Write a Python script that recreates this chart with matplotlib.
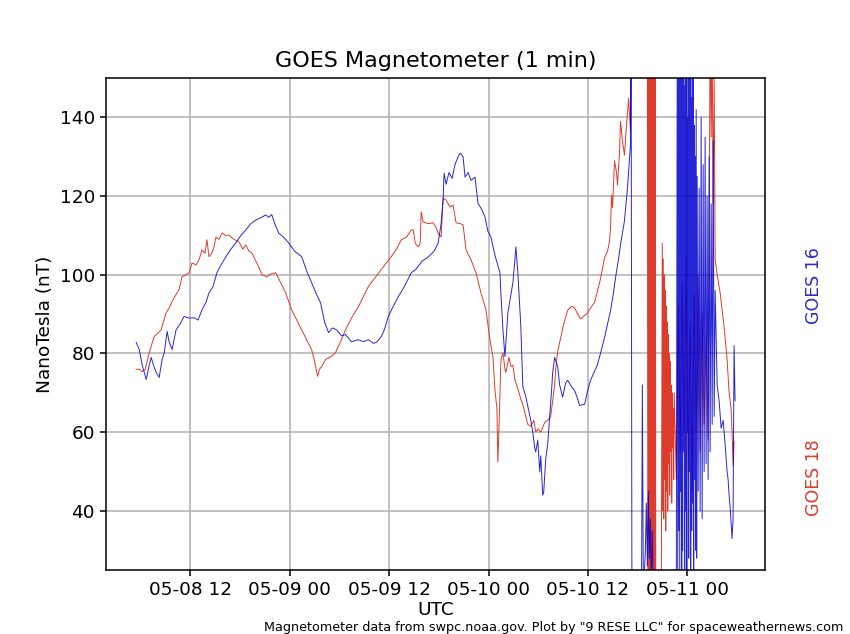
import matplotlib
matplotlib.use('Agg')
import matplotlib.pyplot as plt
import matplotlib.dates as mdates
import pandas as pd

# GOES 16, horas desde 2024-05-08 00:00 UTC y valores en nT
g16_hours = [5.50, 5.87, 6.23, 6.71, 7.07, 7.31, 7.67, 7.91, 8.27, 8.63, 8.87, 9.23, 9.47, 9.83,
             10.31, 10.79, 11.27, 11.88, 12.48, 12.96, 13.44, 13.92, 14.28, 14.76, 15.24, 15.72,
             16.32, 16.92, 17.52, 18.13, 18.73, 19.33, 19.93, 20.53, 21.13, 21.49, 21.85, 22.21,
             22.69, 23.29, 23.89, 24.61, 25.46, 26.06, 26.66, 27.26, 27.74, 28.22, 28.70, 29.18,
             29.66, 30.26, 30.75, 31.47, 32.31, 32.91, 33.51, 34.11, 34.47, 35.07, 35.43, 35.91,
             36.51, 37.11, 37.84, 38.68, 39.28, 40.00, 40.72, 41.44, 41.92, 42.28, 42.52, 42.64,
             42.88, 43.24, 43.60, 43.96, 44.33, 44.57, 44.93, 45.17, 45.53, 45.89, 46.37, 46.73,
             47.21, 47.57, 47.93, 48.29, 48.77, 49.38, 49.50, 49.74, 49.98, 50.34, 50.70, 50.94,
             51.18, 51.30, 51.54, 51.90, 52.14, 52.50, 52.74, 53.10, 53.34, 53.58, 53.70, 53.94,
             54.18, 54.30, 54.54, 54.66, 54.90, 55.14, 55.38, 55.62, 55.74, 55.98, 56.34, 56.58,
             56.94, 57.31, 57.55, 58.03, 58.39, 58.75, 58.99, 59.59, 59.95, 60.31, 60.79, 61.15,
             61.63, 61.99, 62.36, 62.72, 63.08, 63.32, 63.68, 63.92, 64.40, 64.76, 65.12, 65.20,
             65.30, 65.84, 66.44, 66.56, 66.68, 66.92, 67.04, 67.16, 67.28, 67.40, 67.52, 67.64,
             67.76, 67.88, 69.33, 70.65,
             70.77, 70.83, 70.89, 70.95, 71.01, 71.07, 71.13, 71.19, 71.25, 71.31, 71.37, 71.43,
             71.49, 71.55, 71.61, 71.67, 71.73, 71.79, 71.85, 71.91, 71.97, 72.03, 72.09, 72.15,
             72.21, 72.27, 72.33, 72.39, 72.45, 72.51, 72.57, 72.63, 72.69, 72.75, 72.81, 72.87,
             72.93, 72.99, 73.05, 73.11, 73.17,
             73.29, 73.41, 73.53, 73.65, 73.77, 73.89, 74.01, 74.13, 74.25, 74.37, 74.49, 74.61,
             74.73, 74.86, 74.98, 75.10, 75.22, 75.34,
             75.58, 75.82, 76.06, 76.30, 76.54, 76.78, 76.90, 77.02, 77.14,
             77.38, 77.50, 77.62, 77.74]
g16_nt = [82.8, 81, 77, 73.4, 77, 79, 76.5, 75.2, 73.9, 78.5, 80, 85.6, 83, 81,
          86, 87.5, 89.4, 89, 89.1, 88.5, 91.1, 93, 95.4, 97, 100.5, 102.5,
          104.6, 106.5, 108.1, 110, 111.4, 113, 113.9, 114.5, 115.2, 114.6, 115.3, 113,
          110.6, 109.5, 108.1, 106, 104.6, 101, 98, 95, 92.9, 88, 85.3, 86.5,
          86, 84.5, 84.8, 83, 83.5, 83, 83.5, 82.6, 82.8, 84.3, 86, 89.4,
          92, 94.4, 97, 100.5, 101.5, 103.5, 104.5, 106, 108, 113, 119, 125.8,
          123, 126, 124.5, 128, 130, 130.9, 130, 124.8, 126, 124, 124.8, 118.2,
          116.5, 114.7, 111, 109.6, 105, 100.5, 95, 86, 79.2, 90.4, 95, 98,
          103.8, 107.1, 100.5, 86.8, 71.6, 69, 66.6, 63, 60, 56, 55, 58,
          49.9, 54, 44, 44.8, 53.2, 57, 64, 71, 75.2, 79, 76.7, 72,
          68.9, 72.5, 73.2, 71.5, 70.6, 68.5, 66.8, 67.1, 70.5, 73.2, 75.5, 77.2,
          81, 84, 87.5, 90.9, 95.5, 99.2, 104, 107.6, 113.7, 122, 132.9, 165,
          15, 18, 12, 72, 18, 30, 42, 26, 45, 28, 38, 22,
          35, 10, 12, 15,
          165, 20, 160, 35, 155, 22, 158, 45, 150, 18, 160, 30,
          165, 55, 148, 25, 162, 40, 152, 20, 140, 60, 165, 28,
          155, 50, 160, 22, 145, 35, 165, 42, 150, 24, 138, 48,
          130, 30, 142, 28, 125,
          45, 122, 40, 140, 38, 128, 50, 135, 52, 120, 48, 130,
          55, 118, 62, 134, 64, 96,
          72, 68, 61, 63, 57, 50, 48, 44, 41,
          33, 38, 82, 68]

# GOES 18
g18_hours = [5.50, 5.87, 6.23, 6.59, 7.07, 7.67, 8.03, 8.51, 9.11, 9.47, 9.83, 10.31, 10.67, 11.03,
             11.51, 11.88, 12.24, 12.72, 13.08, 13.44, 13.80, 14.04, 14.28, 14.64, 14.88, 15.12,
             15.48, 15.84, 16.32, 16.68, 17.28, 17.88, 18.37, 18.73, 19.09, 19.45, 19.93, 20.29,
             20.65, 21.25, 21.73, 22.33, 22.93, 23.53, 24.25, 24.86, 25.46, 26.06, 26.66, 27.02,
             27.38, 27.62, 27.98, 28.34, 28.82, 29.18, 29.54, 30.14, 30.75, 31.47, 32.31, 32.91,
             33.51, 34.23, 35.07, 35.67, 36.27, 36.88, 37.48, 38.08, 38.68, 38.92, 39.16, 39.52,
             39.76, 39.88, 40.12, 40.72, 41.32, 41.68, 41.92, 42.28, 42.52, 42.88, 43.36, 43.72,
             44.09, 44.57, 44.93, 45.29, 45.89, 46.49, 47.09, 47.69, 48.17, 48.53, 48.77, 49.01,
             49.13, 49.25, 49.50, 49.74, 49.98, 50.10, 50.46, 50.70, 50.94, 51.18, 51.54, 51.90,
             52.14, 52.50, 52.74, 53.10, 53.46, 53.70, 53.94, 54.30, 54.78, 55.14, 55.50, 55.74,
             55.98, 56.10, 56.34, 56.70, 57.07, 57.55, 58.03, 58.39, 58.75, 59.11, 59.47, 59.83,
             60.31, 60.79, 61.15, 61.51, 61.75, 61.99, 62.36, 62.60, 62.72, 62.84, 62.96, 63.20,
             63.44, 63.56, 63.80, 63.92, 64.16, 64.40, 64.64, 64.90, 65.12, 65.24, 66.20,
             67.16, 67.22, 67.28, 67.34, 67.40, 67.46, 67.52, 67.58, 67.64, 67.70, 67.76, 67.82,
             67.88, 67.94, 68.00, 68.06, 68.12, 68.18, 68.84,
             68.96, 69.02, 69.08, 69.14, 69.20, 69.26, 69.32, 69.38, 69.44, 69.50, 69.56, 69.62,
             69.68, 69.74, 69.80, 69.86, 69.92, 69.98, 70.04, 70.10, 70.16, 70.22, 70.28, 70.34,
             70.40, 70.65,
             70.89, 71.13, 71.37, 71.61, 71.85, 72.09, 72.33, 72.57, 72.81, 73.05, 73.29, 73.53,
             73.77, 74.01, 74.25, 74.49, 74.74, 74.86, 74.98, 75.10, 75.22, 75.34, 75.58, 75.94,
             76.18, 76.42, 76.78, 77.02, 77.26, 77.38, 77.50, 77.62]
g18_nt = [76, 76, 75.4, 76, 80.2, 84.3, 85, 86, 90.4, 91.5, 93.2, 95, 96.2, 99.5,
          100, 100.5, 103, 102.5, 103.8, 106.3, 105.5, 108.9, 104.6, 105.6, 107, 109.6,
          109, 110.6, 110, 110.1, 109, 108.4, 106.5, 107.6, 106, 105.6, 103.5, 102,
          100, 99.5, 100.2, 100.5, 98, 95.4, 91.1, 88.5, 86, 83.5, 81, 78,
          74.2, 76, 77, 78.5, 79, 79.5, 80.2, 83, 86, 89, 91.9, 94.5,
          97, 99, 101.3, 103, 104.6, 106.5, 108.9, 109.5, 111.4, 111.4, 108, 107.1,
          108, 116, 113.4, 113, 113.2, 112, 110.6, 109.6, 119.5, 119, 117.2, 117.7,
          113.2, 113, 112.7, 106.3, 103.8, 100.5, 95.4, 91.1, 83.5, 79.2, 70.9, 66,
          52.4, 60, 78.5, 80.2, 76, 75.2, 79, 76.7, 77, 73.4, 71, 68.4,
          67, 64, 62, 61.5, 63, 60, 60.8, 60, 62.5, 63, 64, 68,
          72, 76, 80.5, 84, 87.5, 91, 92, 91.6, 90, 88.8, 89.5, 90,
          91.6, 93, 95.9, 99, 101.5, 104.3, 106, 108.6, 112, 120.3, 117, 128.9,
          126, 122.8, 131, 139, 134, 130.4, 138, 144.8, 136.5, 165, 170,
          165, 18, 160, 22, 165, 15, 158, 25, 165, 20, 160, 28,
          155, 18, 162, 22, 150, 12, 15,
          108, 40, 104, 38, 100, 48, 96, 35, 92, 45, 88, 40,
          85, 52, 80, 44, 78, 55, 72, 42, 70, 56, 66, 48,
          70, 48,
          92, 55, 98, 60, 105, 50, 88, 45, 95, 60, 100, 55,
          90, 62, 85, 58, 165, 135, 160, 118, 150, 104, 100, 95.4,
          91, 86.8, 78.5, 70.1, 66, 60, 51.4, 57.5]

t0 = pd.Timestamp('2024-05-08 00:00')
g16_time = t0 + pd.to_timedelta(g16_hours, unit='h')
g18_time = t0 + pd.to_timedelta(g18_hours, unit='h')

blue = '#0000d0'
red = '#dd3b2c'

plt.rcParams['font.size'] = 13.3
fig = plt.figure(figsize=(8.5, 6.34), dpi=100)
ax = fig.add_subplot(111)
fig.subplots_adjust(left=0.125, right=0.9, top=0.877, bottom=0.101)

ax.plot(g18_time, g18_nt, color=red, lw=0.7)
ax.plot(g16_time, g16_nt, color=blue, lw=0.7, alpha=0.85)

ax.set_ylim(25, 150)
ax.xaxis.set_major_locator(mdates.HourLocator(byhour=[0, 12]))
ax.xaxis.set_major_formatter(mdates.DateFormatter('%m-%d %H'))
ax.grid(True, color='#b0b0b0', lw=1.1)
ax.tick_params(length=4.6, width=1.1)
for s in ax.spines.values():
    s.set_linewidth(1.1)

ax.set_title('GOES Magnetometer (1 min)', fontsize=16, pad=8)
ax.set_ylabel('NanoTesla (nT)')
ax.set_xlabel('UTC', labelpad=1)

fig.text(0.958, 0.55, 'GOES 16', color='#2b2bc4', rotation=90, fontsize=12.5, ha='center', va='center')
fig.text(0.958, 0.246, 'GOES 18', color=red, rotation=90, fontsize=12.5, ha='center', va='center')
fig.text(0.992, 0.0, 'Magnetometer data from swpc.noaa.gov. Plot by "9 RESE LLC" for spaceweathernews.com',
         fontsize=9.2, ha='right', va='bottom')

plt.savefig('out.png', dpi=100)
